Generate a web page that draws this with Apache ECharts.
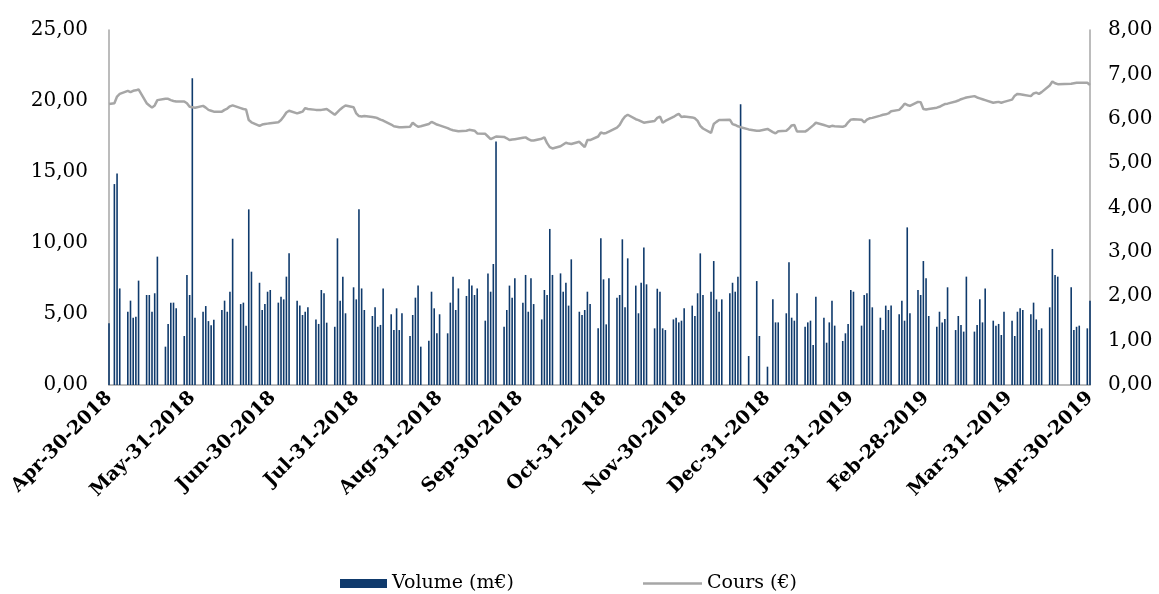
<!DOCTYPE html>
<html>
<head>
<meta charset="utf-8">
<script src="https://cdn.jsdelivr.net/npm/echarts@6/dist/echarts.min.js"></script>
<style>html,body{margin:0;padding:0;background:#fff;}#c{width:1159px;height:594px;}</style>
</head>
<body>
<div id="c"></div>
<script>
// Axis range (calendar days, first = Mon Apr-30-2018, last = Tue Apr-30-2019)
var startDate = [2018, 3, 30];
var dayCount = 366;
var monthNames = ['Jan','Feb','Mar','Apr','May','Jun','Jul','Aug','Sep','Oct','Nov','Dec'];

// Daily volume (m€), Monday..Friday per week; null = market closed
var volume = [
  4.34, null, 14.15, 14.9, 6.8,
  5.16, 5.94, 4.74, 4.81, 7.35,
  6.34, 6.34, 5.16, 6.46, 9.04,
  2.7, 4.3, 5.8, 5.8, 5.4,
  3.45, 7.75, 6.34, 21.6, 4.74,
  5.16, 5.56, 4.5, 4.2, 4.6,
  5.28, 5.94, 5.16, 6.57, 10.3,
  5.7, 5.8, 4.18, 12.37, 7.98,
  7.2, 5.28, 5.7, 6.57, 6.69,
  5.8, 6.22, 6.03, 7.63, 9.27,
  5.94, 5.59, 4.93, 5.16, 5.47,
  4.62, 4.3, 6.69, 6.46, 4.39,
  4.1, 10.33, 5.94, 7.63, 5.05,
  6.88, 6.03, 12.37, 6.8, 5.28,
  4.86, 5.47, 4.1, 4.23, 6.8,
  4.98, 3.87, 5.4, 3.87, 5.05,
  3.45, 4.93, 6.15, 7.0, 2.7,
  3.12, 6.57, 5.4, 3.64, 4.98,
  3.64, 5.8, 7.63, 5.28, 6.8,
  6.27, 7.44, 7.0, 6.34, 6.8,
  4.53, 7.86, 6.57, 8.52, 17.14,
  4.1, 5.28, 7.0, 6.15, 7.51,
  5.8, 7.75, 5.16, 7.51, 5.7,
  4.62, 6.69, 6.34, 10.99, 7.75,
  7.86, 6.57, 7.2, 5.59, 8.85,
  5.16, 4.93, 5.28, 6.57, 5.7,
  3.99, 10.33, 7.44, 4.27, 7.51,
  6.15, 6.34, 10.26, 5.47, 8.92,
  7.0, 5.05, 7.2, 9.69, 7.09,
  3.99, 6.78, 6.57, 3.99, 3.87,
  4.62, 4.74, 4.41, 4.53, 5.4,
  5.59, 4.86, 6.46, 9.27, 6.34,
  6.57, 8.73, 6.03, 5.16, 6.03,
  6.46, 7.2, 6.57, 7.63, 19.77,
  2.04, null, null, 7.32, 3.45,
  1.29, null, 6.03, 4.41, 4.41,
  5.05, 8.64, 4.74, 4.53, 6.46,
  4.1, 4.41, 4.53, 2.82, 6.22,
  4.74, 2.98, 4.41, 5.94, 4.18,
  3.1, 3.64, 4.3, 6.69, 6.57,
  4.18, 6.34, 6.46, 10.26, 5.47,
  4.74, 3.87, 5.59, 5.28, 5.59,
  4.98, 5.94, 4.53, 11.1, 5.05,
  6.69, 6.34, 8.73, 7.51, 4.86,
  4.1, 5.16, 4.41, 4.65, 6.88,
  3.87, 4.86, 4.23, 3.76, 7.63,
  3.76, 4.23, 6.03, 4.41, 6.8,
  4.53, 4.18, 4.3, 3.52, 5.16,
  4.53, 3.45, 5.16, 5.4, 5.28,
  4.98, 5.8, 4.62, 3.87, 3.99,
  5.47, 9.58, 7.75, 7.63, null,
  null, 6.88, 3.87, 4.1, 4.18,
  3.99, 5.94
];

// Daily share price (€), Monday..Friday per week; null = market closed
var price = [
  6.33, null, 6.35, 6.5, 6.56,
  6.63, 6.6, 6.63, 6.64, 6.66,
  6.35, 6.3, 6.25, 6.3, 6.42,
  6.45, 6.45, 6.42, 6.4, 6.39,
  6.39, 6.35, 6.27, 6.26, 6.25,
  6.29, 6.25, 6.2, 6.18, 6.16,
  6.16, 6.2, 6.23, 6.28, 6.3,
  6.24, 6.22, 6.21, 5.97, 5.92,
  5.84, 5.87, 5.88, 5.89, 5.9,
  5.92, 5.97, 6.05, 6.14, 6.18,
  6.12, 6.14, 6.16, 6.24, 6.22,
  6.2, 6.2, 6.2, 6.21, 6.22,
  6.09, 6.15, 6.21, 6.26, 6.3,
  6.26, 6.12, 6.06, 6.05, 6.06,
  6.04, 6.03, 6.01, 5.98, 5.96,
  5.87, 5.83, 5.82, 5.81, 5.81,
  5.82, 5.91, 5.86, 5.82, 5.83,
  5.88, 5.93, 5.9, 5.87, 5.85,
  5.79, 5.76, 5.74, 5.73, 5.72,
  5.73, 5.75, 5.74, 5.73, 5.67,
  5.66, 5.6, 5.54, 5.57, 5.6,
  5.59, 5.56, 5.52, 5.53, 5.54,
  5.57, 5.58, 5.54, 5.51, 5.51,
  5.55, 5.58, 5.45, 5.36, 5.33,
  5.38, 5.42, 5.46, 5.44, 5.43,
  5.48, 5.42, 5.36, 5.52, 5.52,
  5.6, 5.69, 5.67, 5.68, 5.71,
  5.8, 5.86, 5.97, 6.05, 6.09,
  5.99, 5.97, 5.94, 5.91, 5.92,
  5.95, 6.02, 6.05, 5.91, 5.95,
  6.04, 6.08, 6.11, 6.04, 6.05,
  6.03, 6.01, 5.95, 5.84, 5.78,
  5.68, 5.88, 5.93, 5.97, 5.97,
  5.98, 5.88, 5.86, 5.83, 5.81,
  5.76, null, null, 5.73, 5.73,
  5.77, null, 5.7, 5.67, 5.72,
  5.73, 5.78, 5.85, 5.86, 5.71,
  5.71, 5.75, 5.8, 5.85, 5.91,
  5.86, 5.84, 5.82, 5.84, 5.83,
  5.82, 5.84, 5.92, 5.98, 5.99,
  5.98, 5.92, 5.98, 6.01, 6.02,
  6.07, 6.09, 6.1, 6.12, 6.17,
  6.2, 6.26, 6.34, 6.31, 6.29,
  6.38, 6.37, 6.22, 6.21, 6.22,
  6.25, 6.27, 6.3, 6.33, 6.34,
  6.39, 6.41, 6.44, 6.46, 6.48,
  6.51, 6.48, 6.46, 6.44, 6.42,
  6.36, 6.37, 6.38, 6.36, 6.38,
  6.43, 6.52, 6.56, 6.55, 6.54,
  6.51, 6.57, 6.59, 6.56, 6.6,
  6.75, 6.84, 6.8, 6.78, null,
  null, 6.79, 6.8, 6.81, 6.81,
  6.81, 6.76
];

var seriesNames = ['Volume (m€)', 'Cours (€)'];

// ---- build calendar categories and map weekday values onto them ----
var categories = [], monthEnd = [];
var t0 = Date.UTC(startDate[0], startDate[1], startDate[2]);
for (var d = 0; d < dayCount; d++) {
  var dt = new Date(t0 + d * 86400000);
  var nx = new Date(t0 + (d + 1) * 86400000);
  var dd = dt.getUTCDate();
  categories.push(monthNames[dt.getUTCMonth()] + '-' + (dd < 10 ? '0' + dd : dd) + '-' + dt.getUTCFullYear());
  monthEnd.push(nx.getUTCMonth() !== dt.getUTCMonth());
}
var volData = new Array(dayCount).fill(null);
var priceData = new Array(dayCount).fill(null);
for (var i = 0; i < volume.length; i++) {
  var di = Math.floor(i / 5) * 7 + (i % 5);
  if (di < dayCount) { volData[di] = volume[i]; priceData[di] = price[i]; }
}

function fmt(v) { return v.toFixed(2).replace('.', ','); }
var serif = 'DejaVu Serif';

var chart = echarts.init(document.getElementById('c'));
chart.setOption({
  animation: false,
  backgroundColor: '#ffffff',
  grid: { left: 109, right: 69, top: 30, bottom: 209 },
  legend: [
    { data: [{ name: seriesNames[0], icon: 'rect' }], left: 335, top: 569, itemWidth: 47, itemHeight: 9, itemGap: 0,
      textStyle: { fontFamily: serif, fontSize: 19, color: '#000' } },
    { data: [{ name: seriesNames[1], icon: 'rect', itemStyle: { color: '#a6a6a6' } }], left: 638, top: 569,
      itemWidth: 59, itemHeight: 2.5, itemGap: 0,
      textStyle: { fontFamily: serif, fontSize: 19, color: '#000' } }
  ],
  xAxis: {
    type: 'category',
    data: categories,
    boundaryGap: false,
    axisLine: { lineStyle: { color: '#a6a6a6', width: 1.5 } },
    axisTick: { show: false },
    axisLabel: {
      interval: function (idx) { return idx === 0 || monthEnd[idx]; },
      rotate: 45,
      margin: 10,
      fontFamily: serif,
      fontWeight: 'bold',
      fontSize: 19,
      color: '#000'
    },
    splitLine: { show: false }
  },
  yAxis: [
    { type: 'value', min: 0, max: 25, interval: 5,
      axisLine: { show: true, lineStyle: { color: '#a6a6a6', width: 1.5 } },
      axisTick: { show: false }, splitLine: { show: false },
      axisLabel: { formatter: fmt, margin: 21, fontFamily: serif, fontSize: 20, color: '#000' } },
    { type: 'value', min: 0, max: 8, interval: 1, position: 'right',
      axisLine: { show: true, lineStyle: { color: '#a6a6a6', width: 1.5 } },
      axisTick: { show: false }, splitLine: { show: false },
      axisLabel: { formatter: fmt, margin: 18, fontFamily: serif, fontSize: 20, color: '#000' } }
  ],
  series: [
    { name: seriesNames[0], type: 'bar', yAxisIndex: 0, data: volData,
      barWidth: 1.6, barGap: '-100%',
      itemStyle: { color: '#0f3a6c' } },
    { name: seriesNames[1], type: 'line', yAxisIndex: 1, data: priceData,
      connectNulls: true, symbol: 'none', showSymbol: false,
      lineStyle: { color: '#a6a6a6', width: 2.5 },
      itemStyle: { color: '#a6a6a6' } }
  ]
});
</script>
</body>
</html>
